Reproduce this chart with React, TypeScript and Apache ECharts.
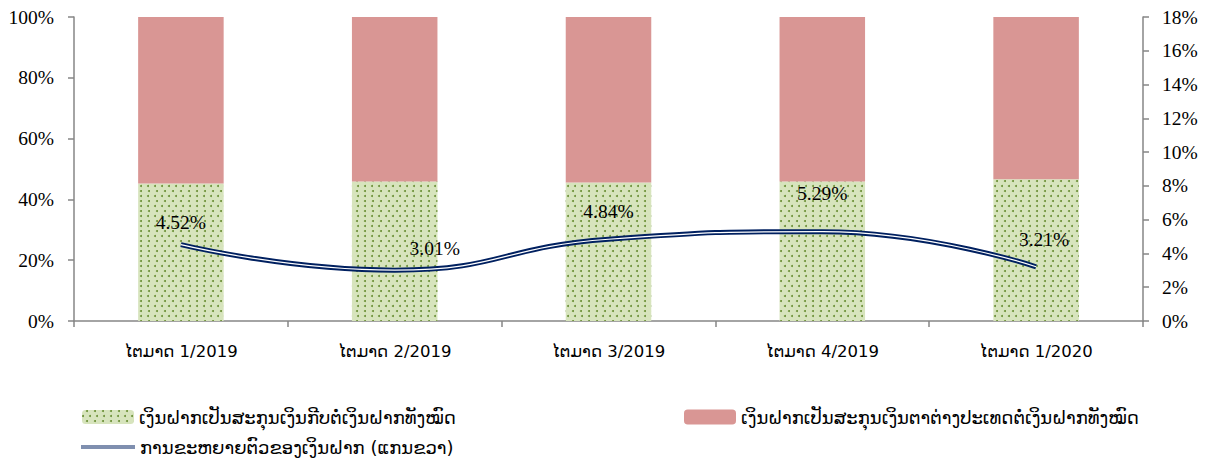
import React, { useEffect, useRef } from "react";
import * as echarts from "echarts";

const categories = ["ໄຕມາດ 1/2019", "ໄຕມາດ 2/2019", "ໄຕມາດ 3/2019", "ໄຕມາດ 4/2019", "ໄຕມາດ 1/2020"];
const kipShare = [45.2, 45.9, 45.6, 45.9, 46.6];
const foreignShare = [54.8, 54.1, 54.4, 54.1, 53.4];
const growth = [4.52, 3.01, 4.84, 5.29, 3.21];
const labelOffsets = [[0, -7], [40, -7], [0, -13], [0, -23], [8, -12]];

const nameKip = "ເງິນຝາກເປັນສະກຸນເງິນກີບຕໍ່ເງິນຝາກທັງໝົດ";
const nameForeign = "ເງິນຝາກເປັນສະກຸນເງິນຕາຕ່າງປະເທດຕໍ່ເງິນຝາກທັງໝົດ";
const nameGrowth = "ການຂະຫຍາຍຕົວຂອງເງິນຝາກ (ແກນຂວາ)";

const SERIF = "'Liberation Serif', 'Times New Roman', serif";
const SANS = "'DejaVu Sans', 'Noto Sans', sans-serif";

export default function App() {
  const ref = useRef<HTMLDivElement>(null);
  useEffect(() => {
    if (!ref.current) return;
    const chart = echarts.init(ref.current, null, { renderer: "svg" });
    const legendText = { fontFamily: SANS, fontSize: 18, color: "#000" };
    chart.setOption({
      animation: false,
      backgroundColor: "#fff",
      grid: { left: 74, right: 63, top: 17, bottom: 138 },
      legend: [
        { data: [nameKip], left: 77, top: 403, itemWidth: 52, itemHeight: 14, itemGap: 6, textStyle: legendText },
        { data: [nameForeign], left: 679, top: 403, itemWidth: 52, itemHeight: 15, textStyle: legendText },
        {
          data: [{ name: nameGrowth, icon: "path://M0,0H100V2.2H0Z M0,3.8H100V6H0Z" }],
          left: 76,
          top: 433,
          itemWidth: 54,
          itemHeight: 5,
          textStyle: legendText,
        },
      ],
      xAxis: {
        type: "category",
        data: categories,
        axisLine: { lineStyle: { color: "#868686", width: 1.5 } },
        axisTick: { show: true, length: 6, lineStyle: { color: "#868686", width: 1.5 } },
        axisLabel: { fontFamily: SANS, fontSize: 16.5, color: "#000", margin: 22 },
      },
      yAxis: [
        {
          type: "value",
          min: 0,
          max: 100,
          interval: 20,
          splitLine: { show: false },
          axisLine: { show: true, lineStyle: { color: "#868686", width: 1.5 } },
          axisTick: { show: true, length: 6, lineStyle: { color: "#868686", width: 1.5 } },
          axisLabel: { formatter: "{value}%", fontFamily: SERIF, fontSize: 19.5, color: "#000", margin: 20 },
        },
        {
          type: "value",
          min: 0,
          max: 18,
          interval: 2,
          position: "right",
          splitLine: { show: false },
          axisLine: { show: true, lineStyle: { color: "#868686", width: 1.5 } },
          axisTick: { show: true, length: 6, lineStyle: { color: "#868686", width: 1.5 } },
          axisLabel: { formatter: "{value}%", fontFamily: SERIF, fontSize: 19.5, color: "#000", margin: 19 },
        },
      ],
      series: [
        {
          name: nameKip,
          type: "bar",
          stack: "total",
          barCategoryGap: "60%",
          data: kipShare,
          itemStyle: {
            color: "#d7e4bd",
            decal: {
              symbol: "circle",
              symbolSize: 1,
              color: "#6a8f35",
              dashArrayX: [[2, 5], [0, 3.5, 2, 1.5]],
              dashArrayY: [2, 2.6],
              rotation: 0,
            },
          },
        },
        {
          name: nameForeign,
          type: "bar",
          stack: "total",
          data: foreignShare,
          itemStyle: { color: "#d99694" },
        },
        {
          name: nameGrowth,
          type: "line",
          yAxisIndex: 1,
          smooth: 0.5,
          symbol: "circle",
          symbolSize: 0.1,
          showSymbol: true,
          data: growth.map((v, i) => ({
            value: v,
            label: { offset: labelOffsets[i] },
          })),
          itemStyle: { color: "#002060" },
          lineStyle: { color: "#002060", width: 5 },
          label: {
            show: true,
            position: "top",
            distance: 5,
            formatter: (p: any) => p.value.toFixed(2) + "%",
            fontFamily: SERIF,
            fontSize: 19.5,
            color: "#000",
          },
          z: 3,
        },
        {
          name: "inner",
          type: "line",
          yAxisIndex: 1,
          smooth: 0.5,
          symbol: "none",
          data: growth,
          lineStyle: { color: "#ffffff", width: 1.2 },
          silent: true,
          z: 4,
        },
      ],
    });
    return () => chart.dispose();
  }, []);
  return (
    <div
      ref={ref}
      style={{ position: "absolute", left: 0, top: 0, width: 1206, height: 459 }}
    />
  );
}
